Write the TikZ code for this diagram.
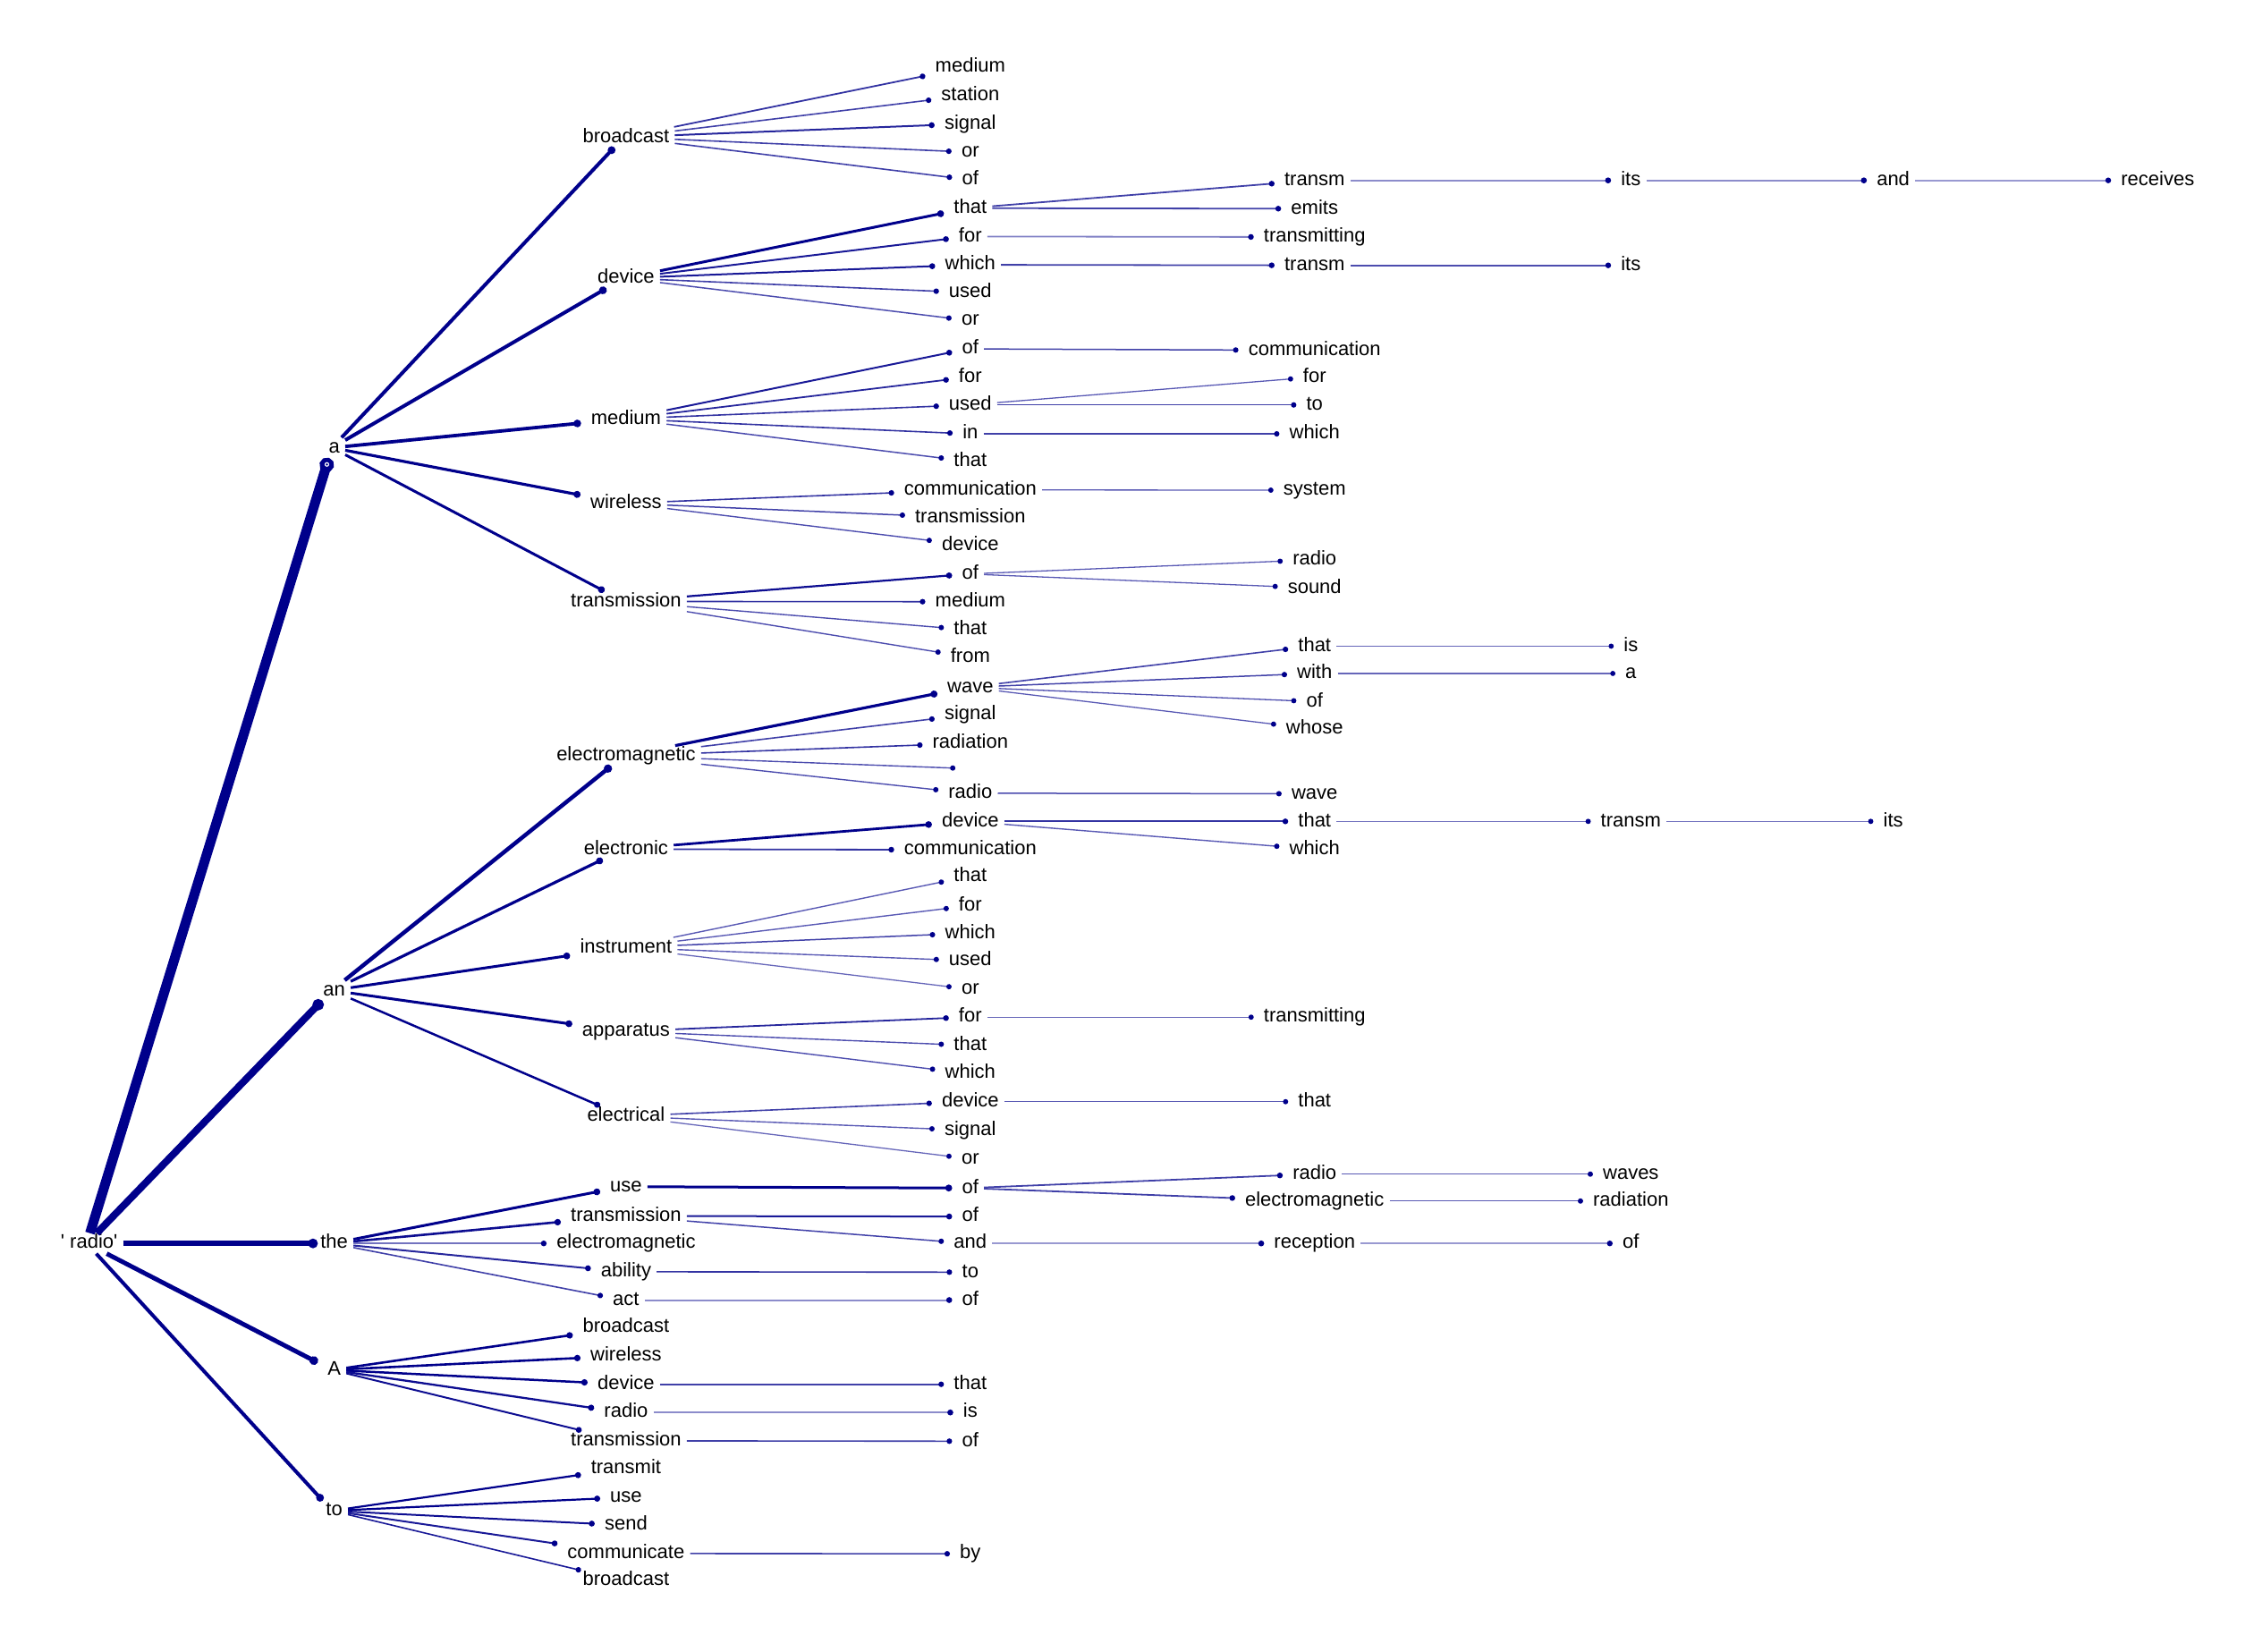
\documentclass[tikz,border=0pt]{standalone}
\usepackage{fontspec}
\newfontfamily\lsans{Liberation Sans}
\usetikzlibrary{arrows.meta,calc}
\definecolor{dkb}{RGB}{0,0,139}
\newcommand\lnk[4]{\draw[line width=#3pt,draw=dkb!#4,-{Circle[length=4.5pt 1,color=dkb]}] (#1) -- (#2);}
\tikzset{w/.style={font=\lsans\fontsize{22}{26}\selectfont, text height=15.5pt, text depth=4pt, inner ysep=1.5pt, inner xsep=6pt, xshift=-2.5pt, execute at begin node=\hspace{5pt}}}
\begin{document}
\begin{tikzpicture}[x=1.607pt,y=-1.607pt]
\useasboundingbox (0,0) rectangle (1568,1149);
% root and level 1
\node[w] (r) at (62,865) {' radio'};
\node[w] (a) at (232.5,311.5) {a};
\node[w] (an) at (232.5,689) {an};
\node[w] (the) at (232.5,865) {the};
\node[w] (A) at (232.5,953) {A};
\node[w] (to) at (232.5,1051) {to};
% level 2
\node[w] (a1) at (435.5,95.4) {broadcast};
\node[w] (a2) at (435.5,193.5) {device};
\node[w] (a3) at (435.5,291.4) {medium};
\node[w] (a4) at (435.5,350.1) {wireless};
\node[w] (a5) at (435.5,418.4) {transmission};
\node[w] (n1) at (435.5,525.8) {electromagnetic};
\node[w] (n2) at (435.5,590.7) {electronic};
\node[w] (n3) at (435.5,659.2) {instrument};
\node[w] (n4) at (435.5,717.5) {apparatus};
\node[w] (n5) at (435.5,776.5) {electrical};
\node[w] (t1) at (435.5,825.5) {use};
\node[w] (t2) at (435.5,845.9) {transmission};
\node[w] (t3) at (435.5,865) {electromagnetic};
\node[w] (t4) at (435.5,884.7) {ability};
\node[w] (t5) at (435.5,904.4) {act};
\node[w] (A1) at (435.5,923.5) {broadcast};
\node[w] (A2) at (435.5,943.2) {wireless};
\node[w] (A3) at (435.5,963) {device};
\node[w] (A4) at (435.5,982.6) {radio};
\node[w] (A5) at (435.5,1002.3) {transmission};
\node[w] (o1) at (435.5,1021.6) {transmit};
\node[w] (o2) at (435.5,1041.7) {use};
\node[w] (o3) at (435.5,1061) {send};
\node[w] (o4) at (435.5,1080.7) {communicate};
\node[w] (o5) at (435.5,1099.6) {broadcast};
% level 3
\node[w] (a1a) at (675,46.7) {medium};
\node[w] (a1b) at (675,66.4) {station};
\node[w] (a1c) at (675,86.1) {signal};
\node[w] (a1d) at (675,105.8) {or};
\node[w] (a1e) at (675,124.9) {of};
\node[w] (a2a) at (675,144.8) {that};
\node[w] (a2b) at (675,164.5) {for};
\node[w] (a2c) at (675,184.2) {which};
\node[w] (a2d) at (675,203.5) {used};
\node[w] (a2e) at (675,222.9) {or};
\node[w] (a3a) at (675,242.7) {of};
\node[w] (a3b) at (675,262.4) {for};
\node[w] (a3c) at (675,281.7) {used};
\node[w] (a3d) at (675,301.8) {in};
\node[w] (a3e) at (675,320.9) {that};
\node[w] (a4a) at (675,340.8) {communication};
\node[w] (a4b) at (675,360.3) {transmission};
\node[w] (a4c) at (675,379.2) {device};
\node[w] (a5a) at (675,399.3) {of};
\node[w] (a5b) at (675,418.6) {medium};
\node[w] (a5c) at (675,438.1) {that};
\node[w] (a5d) at (675,457) {from};
\node[w] (n1a) at (675,478.1) {wave};
\node[w] (n1b) at (675,497.2) {signal};
\node[w] (n1c) at (675,517.1) {radiation};
\node[w] (n1d) at (675,534.7) {\phantom{x}};
\node[w] (n1e) at (675,551.8) {radio};
\node[w] (n2a) at (675,571.4) {device};
\node[w] (n2b) at (675,591.2) {communication};
\node[w] (n3a) at (675,609.8) {that};
\node[w] (n3b) at (675,630.2) {for};
\node[w] (n3c) at (675,649.2) {which};
\node[w] (n3d) at (675,668.3) {used};
\node[w] (n3e) at (675,688) {or};
\node[w] (n4a) at (675,707.6) {for};
\node[w] (n4b) at (675,727.2) {that};
\node[w] (n4c) at (675,746.8) {which};
\node[w] (n5a) at (675,766.4) {device};
\node[w] (n5b) at (675,786.3) {signal};
\node[w] (n5c) at (675,806) {or};
\node[w] (t1a) at (675,826.5) {of};
\node[w] (t2a) at (675,846.3) {of};
\node[w] (t2b) at (675,865) {and};
\node[w] (t4a) at (675,885) {to};
\node[w] (t5a) at (675,904.4) {of};
\node[w] (A3a) at (675,963) {that};
\node[w] (A4a) at (675,982.6) {is};
\node[w] (A5a) at (675,1002.6) {of};
\node[w] (o4a) at (675,1080.9) {by};
% level 4
\node[w] (a2a1) at (914.5,125.5) {transm};
\node[w] (a2a2) at (914.5,145.2) {emits};
\node[w] (a2b1) at (914.5,164.9) {transmitting};
\node[w] (a2c1) at (914.5,184.6) {transm};
\node[w] (a3a1) at (914.5,243.7) {communication};
\node[w] (a3c1) at (914.5,262.4) {for};
\node[w] (a3c2) at (914.5,281.7) {to};
\node[w] (a3d1) at (914.5,301.8) {which};
\node[w] (a4a1) at (914.5,341) {system};
\node[w] (a5a1) at (914.5,389.5) {radio};
\node[w] (a5a2) at (914.5,409) {sound};
\node[w] (n1a1) at (914.5,449.5) {that};
\node[w] (n1a2) at (914.5,468.5) {with};
\node[w] (n1a3) at (914.5,488) {of};
\node[w] (n1a4) at (914.5,507) {whose};
\node[w] (n1e1) at (914.5,552.2) {wave};
\node[w] (n2a1) at (914.5,571.4) {that};
\node[w] (n2a2) at (914.5,590.7) {which};
\node[w] (n4a1) at (914.5,707.6) {transmitting};
\node[w] (n5a1) at (914.5,766.4) {that};
\node[w] (t1a1) at (914.5,816.8) {radio};
\node[w] (t1a2) at (914.5,835.5) {electromagnetic};
\node[w] (t2b1) at (914.5,865) {reception};
% level 5
\node[w] (a2a1a) at (1134.5,125.5) {its};
\node[w] (a2c1a) at (1134.5,184.6) {its};
\node[w] (n1a1a) at (1134.5,449.5) {is};
\node[w] (n1a2a) at (1134.5,468.5) {a};
\node[w] (n2a1a) at (1134.5,571.4) {transm};
\node[w] (t1a1a) at (1134.5,816.8) {waves};
\node[w] (t1a2a) at (1134.5,835.5) {radiation};
\node[w] (t2b1a) at (1134.5,865) {of};
% level 6 and 7
\node[w] (a2a1a1) at (1317,125.5) {and};
\node[w] (n2a1a1) at (1317,571.4) {its};
\node[w] (a2a1a1a) at (1501,125.5) {receives};
% edges: root
\draw[line width=11pt,draw=dkb,-{Circle[length=16pt,color=dkb]}] (r) -- coordinate[pos=1] (aend) (a);
\fill[white] ($(aend)!7.5pt!(r)$) circle[radius=2.6pt];
\fill[dkb] ($(aend)!7.5pt!(r)$) circle[radius=1.3pt];
\lnk{r}{an}{8}{100}
\draw[line width=6pt,draw=dkb,shorten >=-8pt,-{Circle[length=4.5pt 1,color=dkb]}] (r) -- (the);
\lnk{r}{A}{5}{100}
\lnk{r}{to}{4}{100}
% level 1 -> 2
\lnk{a}{a1}{4}{100}
\lnk{a}{a2}{4}{100}
\lnk{a}{a3}{3.8}{100}
\lnk{a}{a4}{3.2}{100}
\lnk{a}{a5}{3}{100}
\lnk{an}{n1}{4.5}{100}
\lnk{an}{n2}{3.2}{100}
\lnk{an}{n3}{3}{100}
\lnk{an}{n4}{3}{100}
\lnk{an}{n5}{2.5}{100}
\lnk{the}{t1}{3}{100}
\lnk{the}{t2}{2.6}{95}
\lnk{the}{t3}{1.8}{55}
\lnk{the}{t4}{2}{85}
\lnk{the}{t5}{1.6}{75}
\lnk{A}{A1}{2.6}{100}
\lnk{A}{A2}{2.6}{100}
\lnk{A}{A3}{2.5}{100}
\lnk{A}{A4}{2.3}{95}
\lnk{A}{A5}{2}{95}
\lnk{to}{o1}{2.2}{100}
\lnk{to}{o2}{2.2}{100}
\lnk{to}{o3}{2}{95}
\lnk{to}{o4}{2}{90}
\lnk{to}{o5}{1.6}{90}
% level 2 -> 3
\lnk{a1}{a1a}{1.8}{80}
\lnk{a1}{a1b}{1.6}{75}
\lnk{a1}{a1c}{2}{85}
\lnk{a1}{a1d}{1.6}{75}
\lnk{a1}{a1e}{1.6}{75}
\lnk{a2}{a2a}{3}{100}
\lnk{a2}{a2b}{2}{90}
\lnk{a2}{a2c}{2}{90}
\lnk{a2}{a2d}{1.6}{75}
\lnk{a2}{a2e}{1.5}{70}
\lnk{a3}{a3a}{2}{90}
\lnk{a3}{a3b}{1.8}{85}
\lnk{a3}{a3c}{1.6}{80}
\lnk{a3}{a3d}{1.6}{80}
\lnk{a3}{a3e}{1.5}{70}
\lnk{a4}{a4a}{1.6}{80}
\lnk{a4}{a4b}{1.5}{75}
\lnk{a4}{a4c}{1.4}{70}
\lnk{a5}{a5a}{2.2}{95}
\lnk{a5}{a5b}{1.6}{80}
\lnk{a5}{a5c}{1.4}{70}
\lnk{a5}{a5d}{1.4}{70}
\lnk{n1}{n1a}{3.2}{100}
\lnk{n1}{n1b}{1.6}{75}
\lnk{n1}{n1c}{1.6}{80}
\lnk{n1}{n1d}{1.4}{70}
\lnk{n1}{n1e}{1.4}{70}
\lnk{n2}{n2a}{2.8}{100}
\lnk{n2}{n2b}{1.8}{80}
\lnk{n3}{n3a}{1.4}{65}
\lnk{n3}{n3b}{1.4}{65}
\lnk{n3}{n3c}{1.5}{75}
\lnk{n3}{n3d}{1.4}{65}
\lnk{n3}{n3e}{1.3}{60}
\lnk{n4}{n4a}{1.8}{85}
\lnk{n4}{n4b}{1.4}{70}
\lnk{n4}{n4c}{1.4}{70}
\lnk{n5}{n5a}{1.6}{75}
\lnk{n5}{n5b}{1.4}{65}
\lnk{n5}{n5c}{1.3}{60}
\lnk{t1}{t1a}{3}{100}
\lnk{t2}{t2a}{2}{90}
\lnk{t2}{t2b}{1.5}{75}
\lnk{t4}{t4a}{1.6}{80}
\lnk{t5}{t5a}{2}{45}
\lnk{A3}{A3a}{1.6}{75}
\lnk{A4}{A4a}{2}{45}
\lnk{A5}{A5a}{1.6}{75}
\lnk{o4}{o4a}{1.6}{75}
% level 3 -> 4
\lnk{a2a}{a2a1}{1.8}{75}
\lnk{a2a}{a2a2}{1.8}{75}
\lnk{a2b}{a2b1}{1.8}{50}
\lnk{a2c}{a2c1}{1.8}{75}
\lnk{a3a}{a3a1}{1.5}{75}
\lnk{a3c}{a3c1}{1.3}{65}
\lnk{a3c}{a3c2}{1.5}{75}
\lnk{a3d}{a3d1}{1.5}{75}
\lnk{a4a}{a4a1}{1.3}{65}
\lnk{a5a}{a5a1}{1.3}{65}
\lnk{a5a}{a5a2}{1.3}{65}
\lnk{n1a}{n1a1}{1.6}{75}
\lnk{n1a}{n1a2}{1.5}{75}
\lnk{n1a}{n1a3}{1.3}{70}
\lnk{n1a}{n1a4}{1.3}{65}
\lnk{n1e}{n1e1}{1.5}{70}
\lnk{n2a}{n2a1}{1.8}{80}
\lnk{n2a}{n2a2}{1.4}{65}
\lnk{n4a}{n4a1}{1.3}{60}
\lnk{n5a}{n5a1}{1.3}{65}
\lnk{t1a}{t1a1}{1.8}{75}
\lnk{t1a}{t1a2}{1.8}{75}
\lnk{t2b}{t2b1}{2}{40}
% level 4 -> 5 -> 6 -> 7
\lnk{a2a1}{a2a1a}{2}{45}
\lnk{a2c1}{a2c1a}{1.8}{70}
\lnk{n1a1}{n1a1a}{1.2}{60}
\lnk{n1a2}{n1a2a}{1.2}{60}
\lnk{n2a1}{n2a1a}{1.3}{55}
\lnk{t1a1}{t1a1a}{1.4}{65}
\lnk{t1a2}{t1a2a}{1.4}{65}
\lnk{t2b1}{t2b1a}{1.8}{40}
\lnk{a2a1a}{a2a1a1}{2}{45}
\lnk{n2a1a}{n2a1a1}{1.3}{55}
\lnk{a2a1a1}{a2a1a1a}{1.8}{40}
\end{tikzpicture}
\end{document}
